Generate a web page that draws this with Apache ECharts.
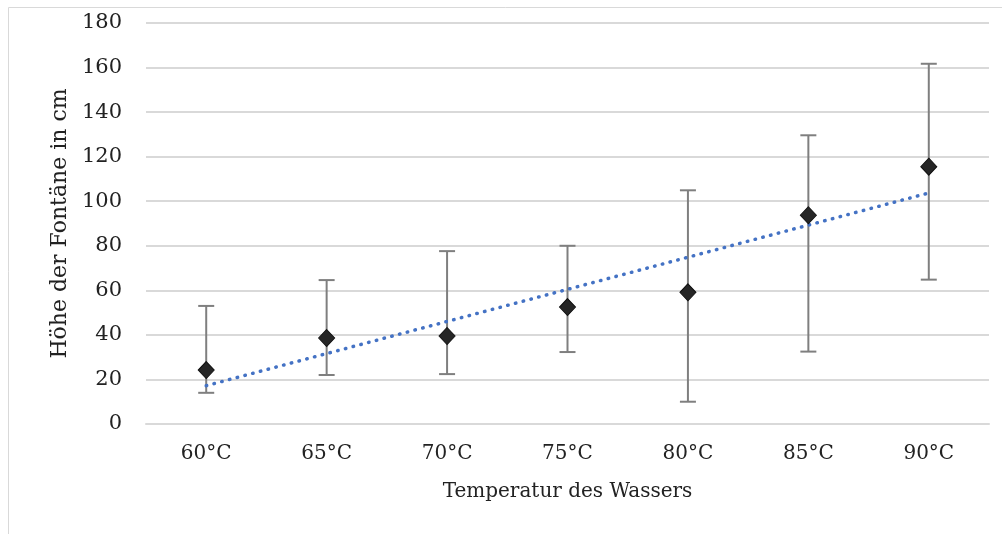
<!DOCTYPE html>
<html>
<head>
<meta charset="utf-8">
<script src="https://cdn.jsdelivr.net/npm/echarts@6/dist/echarts.min.js"></script>
<style>
  html, body { margin: 0; padding: 0; background: #fff; }
  #chart { width: 1002px; height: 534px; }
</style>
</head>
<body>
<div id="chart"></div>
<script>
// Messwerte (Mittelwert + Fehlerbalken min/max)
var categories = ['60°C', '65°C', '70°C', '75°C', '80°C', '85°C', '90°C'];
var means = [24.2, 38.6, 39.5, 52.5, 59.1, 93.7, 115.5];
var lows = [14, 22, 22.4, 32.3, 10, 32.5, 64.8];
var highs = [53, 64.6, 77.6, 80, 104.9, 129.6, 161.7];

document.addEventListener('DOMContentLoaded', function () {
  var myChart = echarts.init(document.getElementById('chart'));

  // lineare Trendlinie (wie in Excel) aus den Mittelwerten
  var n = means.length, sx = 0, sy = 0, sxy = 0, sxx = 0;
  for (var i = 0; i < n; i++) {
    sx += i; sy += means[i]; sxy += i * means[i]; sxx += i * i;
  }
  var slope = (n * sxy - sx * sy) / (n * sxx - sx * sx);
  var icpt = (sy - slope * sx) / n;
  var trend = means.map(function (v, i) { return +(icpt + slope * i).toFixed(2); });

  var errData = categories.map(function (c, i) { return [i, lows[i], highs[i]]; });

  var font = 'DejaVu Serif';
  var txt = '#222';

  var option = {
    animation: false,
    graphic: [{
      type: 'rect',
      shape: { x: 8.5, y: 7.5, width: 1000, height: 540 },
      style: { fill: 'none', stroke: '#d9d9d9', lineWidth: 1 },
      silent: true
    }],
    grid: { left: 146, right: 13, top: 23, bottom: 110 },
    xAxis: {
      type: 'category',
      data: categories,
      name: 'Temperatur des Wassers',
      nameLocation: 'middle',
      nameGap: 58,
      nameTextStyle: { fontFamily: font, fontSize: 20, color: txt },
      axisLine: { lineStyle: { color: '#d9d9d9', width: 2 } },
      axisTick: { show: false },
      axisLabel: { fontFamily: font, fontSize: 20, color: txt, margin: 20 }
    },
    yAxis: {
      type: 'value',
      min: 0,
      max: 180,
      interval: 20,
      name: 'Höhe der Fontäne in cm',
      nameLocation: 'middle',
      nameGap: 72,
      nameTextStyle: { fontFamily: font, fontSize: 22, color: txt },
      axisLine: { show: false },
      axisTick: { show: false },
      axisLabel: { fontFamily: font, fontSize: 21, color: txt, margin: 24 },
      splitLine: { lineStyle: { color: '#d9d9d9', width: 2 } }
    },
    series: [
      {
        name: 'Fehler',
        type: 'custom',
        data: errData,
        z: 2,
        renderItem: function (params, api) {
          var x = api.value(0);
          var lo = api.coord([x, api.value(1)]);
          var hi = api.coord([x, api.value(2)]);
          var hw = 8;
          var st = { stroke: '#7f7f7f', lineWidth: 2 };
          return {
            type: 'group',
            children: [
              { type: 'line', shape: { x1: lo[0], y1: lo[1], x2: hi[0], y2: hi[1] }, style: st },
              { type: 'line', shape: { x1: lo[0] - hw, y1: lo[1], x2: lo[0] + hw, y2: lo[1] }, style: st },
              { type: 'line', shape: { x1: hi[0] - hw, y1: hi[1], x2: hi[0] + hw, y2: hi[1] }, style: st }
            ]
          };
        }
      },
      {
        name: 'Trend',
        type: 'line',
        data: trend,
        symbol: 'none',
        z: 3,
        lineStyle: { color: '#4472c4', width: 3.5, type: [0.5, 7.5], cap: 'round' }
      },
      {
        name: 'Mittelwert',
        type: 'line',
        data: means,
        z: 4,
        symbol: 'diamond',
        symbolSize: [16, 17],
        lineStyle: { width: 0 },
        itemStyle: { color: '#262626', borderColor: '#111', borderWidth: 1 }
      }
    ]
  };

  myChart.setOption(option);
});
</script>
</body>
</html>
